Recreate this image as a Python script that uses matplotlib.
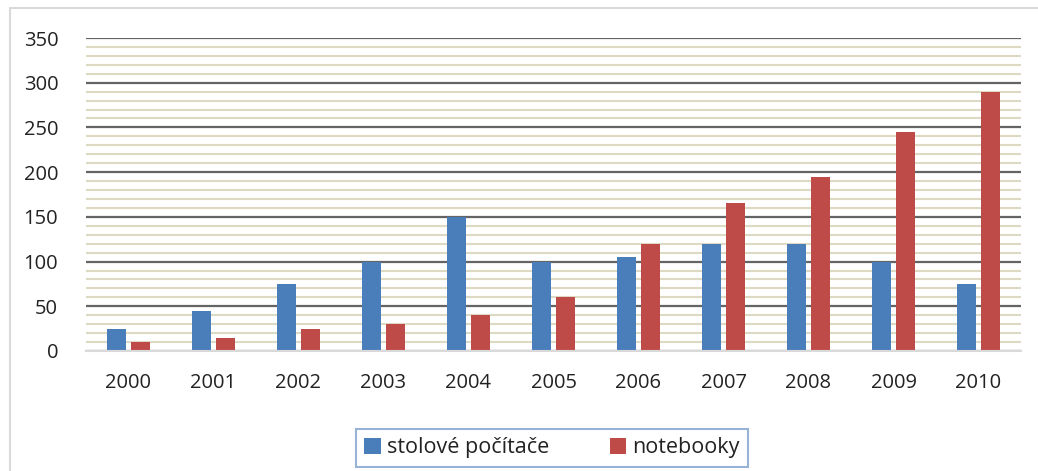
import numpy as np
import matplotlib
matplotlib.use('Agg')
from matplotlib import pyplot as plt
from matplotlib.patches import Rectangle

plt.rcParams['font.family'] = ['Open Sans', 'DejaVu Sans']

years = ['2000', '2001', '2002', '2003', '2004', '2005', '2006', '2007', '2008', '2009', '2010']
stolove = [25, 45, 75, 100, 150, 100, 105, 120, 120, 100, 75]
notebooky = [10, 15, 25, 30, 40, 60, 120, 165, 195, 245, 290]

BLUE = '#4a7ebb'
RED = '#be4b48'

fig = plt.figure(figsize=(10.38, 4.71), dpi=100)
ax = fig.add_axes([86/1038, 1-351/471, (1021-86)/1038, (351-38)/471])

x = np.arange(len(years))
w = 0.22
ax.bar(x - 0.145, stolove, w, color=BLUE, zorder=3, label='stolové počítače')
ax.bar(x + 0.145, notebooky, w, color=RED, zorder=3, label='notebooky')

ax.set_xlim(-0.5, len(years) - 0.5)
ax.set_ylim(0, 350)
ax.set_yticks(np.arange(0, 351, 50))
ax.set_yticks(np.arange(0, 351, 10), minor=True)
ax.grid(which='minor', axis='y', color='#ddd9c3', linewidth=1.5, zorder=1)
ax.grid(which='major', axis='y', color='#646464', linewidth=1.6, zorder=2)
ax.set_xticks(x)
ax.set_xticklabels(years)
for s in ['top', 'right', 'left']:
    ax.spines[s].set_visible(False)
ax.spines['bottom'].set_color('#d9d9d9')
ax.spines['bottom'].set_linewidth(1.5)
ax.spines['bottom'].set_zorder(4)
ax.tick_params(axis='both', which='both', length=0, labelsize=14.5, colors='#222222')
ax.tick_params(axis='y', pad=20)
ax.tick_params(axis='x', pad=16)

leg = fig.legend(loc='center', bbox_to_anchor=(552/1038, 1-448/471), ncol=2,
                 fontsize=15.5, frameon=True, fancybox=False, handlelength=0.75,
                 handleheight=0.75, columnspacing=2.8, handletextpad=0.3,
                 borderpad=0.4, borderaxespad=0)
leg.get_frame().set_edgecolor('#7f9fcf')
leg.get_frame().set_linewidth(1.5)
for t in leg.get_texts():
    t.set_color('#222222')

fig.patches.append(Rectangle((10/1038, -0.1), 1.2, 1.1 - 8/471, transform=fig.transFigure,
                             fill=False, edgecolor='#d9d9d9', linewidth=1.5))

fig.savefig('out.png', dpi=100)
